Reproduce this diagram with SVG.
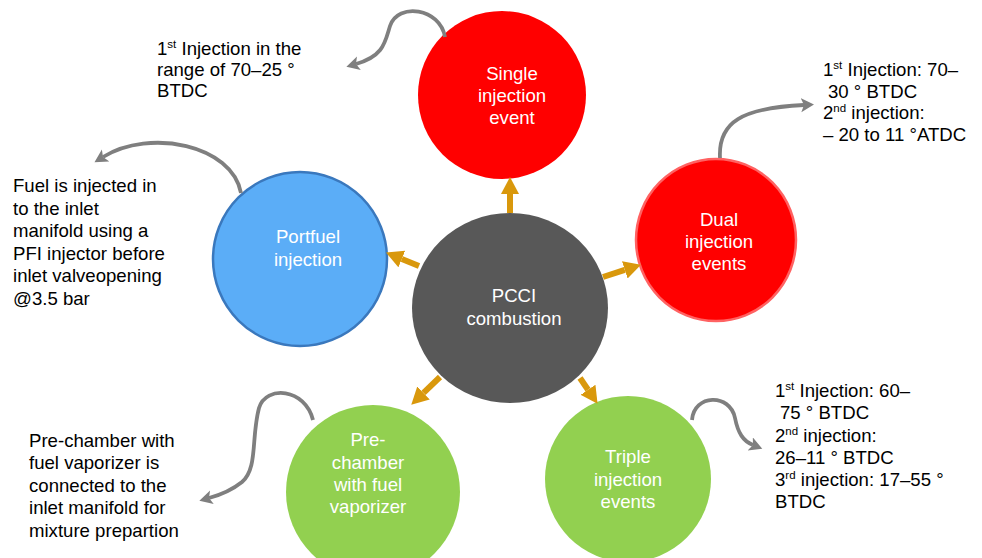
<svg xmlns="http://www.w3.org/2000/svg" width="982" height="558" viewBox="0 0 982 558">
<defs>
<style>
.lbl{font-family:"Liberation Sans",Arial,sans-serif;font-size:18.6px;fill:#000}
.nt{font-family:"Liberation Sans",Arial,sans-serif;font-size:18.6px;fill:#fff;text-anchor:middle}
.sup{font-size:11.5px}
.gold{stroke:#d9980c;stroke-width:6;fill:none}
.grey{stroke:#7f7f7f;stroke-width:3.8;fill:none}
</style>
<marker id="gh" markerUnits="userSpaceOnUse" markerWidth="20" markerHeight="20" refX="0" refY="9" orient="auto">
<path d="M0,0 L17,9 L0,18 Z" fill="#d9980c"/>
</marker>
<marker id="ah" markerUnits="userSpaceOnUse" markerWidth="16" markerHeight="16" refX="3" refY="7" orient="auto">
<path d="M0,0 L13,7 L0,14 L3,7 Z" fill="#7f7f7f"/>
</marker>
</defs>
<rect width="982" height="558" fill="#fff"/>

<g id="node-single">
<circle cx="502" cy="95" r="84" fill="#ff0000"/>
<text class="nt"><tspan x="512" y="80">Single</tspan><tspan x="512" y="102">injection</tspan><tspan x="512" y="124">event</tspan></text>
</g>
<g id="node-dual">
<ellipse cx="716" cy="240" rx="80" ry="81" fill="#ff0000" stroke="#ff6262" stroke-width="2.5"/>
<text class="nt"><tspan x="719" y="226">Dual</tspan><tspan x="719" y="248">injection</tspan><tspan x="719" y="270">events</tspan></text>
</g>
<g id="node-portfuel">
<circle cx="300" cy="259" r="87" fill="#5badf7" stroke="#3a78bd" stroke-width="2.5"/>
<text class="nt"><tspan x="308" y="243">Portfuel</tspan><tspan x="308" y="266">injection</tspan></text>
</g>
<g id="node-pcci">
<ellipse cx="510" cy="308" rx="98" ry="95" fill="#585858"/>
<text class="nt"><tspan x="514" y="302">PCCI</tspan><tspan x="514" y="325">combustion</tspan></text>
</g>
<g id="node-prechamber">
<circle cx="373" cy="492" r="87" fill="#92d050"/>
<text class="nt"><tspan x="368" y="446">Pre-</tspan><tspan x="368" y="469">chamber</tspan><tspan x="368" y="491">with fuel</tspan><tspan x="368" y="513">vaporizer</tspan></text>
</g>
<g id="node-triple">
<circle cx="628" cy="479" r="83" fill="#92d050"/>
<text class="nt"><tspan x="628" y="463">Triple</tspan><tspan x="628" y="486">injection</tspan><tspan x="628" y="508">events</tspan></text>
</g>

<g id="connectors">
<line class="gold" x1="510" y1="213" x2="510" y2="194" marker-end="url(#gh)"/>
<line class="gold" x1="603" y1="277" x2="624.8" y2="269.9" marker-end="url(#gh)"/>
<line class="gold" x1="419" y1="266" x2="401.8" y2="259" marker-end="url(#gh)"/>
<line class="gold" x1="440" y1="377" x2="423.5" y2="392.9" marker-end="url(#gh)"/>
<line class="gold" x1="580" y1="378" x2="588" y2="389.8" marker-end="url(#gh)"/>

<path class="grey" d="M445,37 C440,8 398,2 390,26 C385,42 384,56 356,64" marker-end="url(#ah)"/>
<path class="grey" d="M720,158 C718,122 742,108 804,105" marker-end="url(#ah)"/>
<path class="grey" d="M241,193 C232,145 150,128 103,157" marker-end="url(#ah)"/>
<path class="grey" d="M313,420 C305,388 266,385 259,408 C251,438 258,468 242,482 C232,490 220,495 209,498" marker-end="url(#ah)"/>
<path class="grey" d="M692,420 C694,394 730,393 735,418 C738,433 743,441 753,445" marker-end="url(#ah)"/>
</g>

<g id="labels">
<text class="lbl"><tspan x="157" y="55">1</tspan><tspan class="sup" dy="-7">st</tspan><tspan dy="7"> Injection in the</tspan><tspan x="157" y="76">range of 70–25 °</tspan><tspan x="157" y="97">BTDC</tspan></text>
<text class="lbl"><tspan x="823" y="76">1</tspan><tspan class="sup" dy="-7">st</tspan><tspan dy="7"> Injection: 70–</tspan><tspan x="828" y="98">30 ° BTDC</tspan><tspan x="823" y="119">2</tspan><tspan class="sup" dy="-7">nd</tspan><tspan dy="7"> injection:</tspan><tspan x="823" y="141">– 20 to 11 °ATDC</tspan></text>
<text class="lbl"><tspan x="13" y="192">Fuel is injected in</tspan><tspan x="13" y="215">to the inlet</tspan><tspan x="13" y="237">manifold using a</tspan><tspan x="13" y="260">PFI injector before</tspan><tspan x="13" y="282">inlet valveopening</tspan><tspan x="13" y="305">@3.5 bar</tspan></text>
<text class="lbl"><tspan x="29" y="447">Pre-chamber with</tspan><tspan x="29" y="469">fuel vaporizer is</tspan><tspan x="29" y="492">connected to the</tspan><tspan x="29" y="514">inlet manifold for</tspan><tspan x="29" y="537">mixture prepartion</tspan></text>
<text class="lbl"><tspan x="775" y="397">1</tspan><tspan class="sup" dy="-7">st</tspan><tspan dy="7"> Injection: 60–</tspan><tspan x="780" y="419">75 ° BTDC</tspan><tspan x="775" y="442">2</tspan><tspan class="sup" dy="-7">nd</tspan><tspan dy="7"> injection:</tspan><tspan x="775" y="464">26–11 ° BTDC</tspan><tspan x="775" y="486">3</tspan><tspan class="sup" dy="-7">rd</tspan><tspan dy="7"> injection: 17–55 °</tspan><tspan x="775" y="508">BTDC</tspan></text>
</g>
</svg>
